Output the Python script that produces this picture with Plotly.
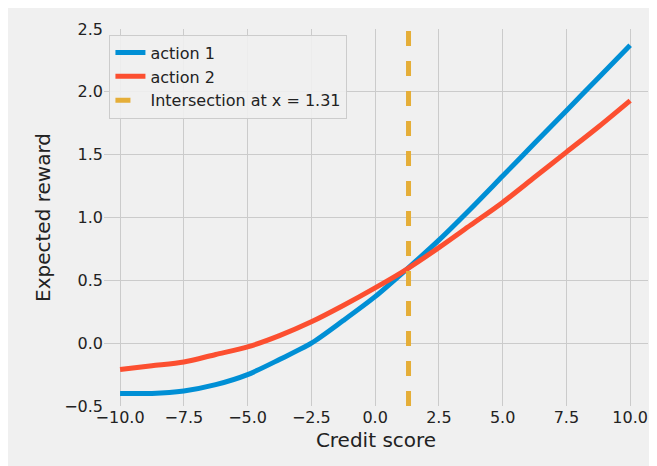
import plotly.graph_objects as go

x_vals = [-10, -8.75, -7.5, -6.25, -5, -3.75, -2.5, -1.25, 0, 1.25, 2.5, 3.75, 5, 6.25, 7.5, 8.75, 10]
action1 = [-0.40, -0.40, -0.38, -0.33, -0.25, -0.13, 0.0, 0.18, 0.37, 0.59, 0.82, 1.07, 1.33, 1.59, 1.85, 2.11, 2.37]
action2 = [-0.21, -0.18, -0.15, -0.09, -0.03, 0.06, 0.17, 0.30, 0.44, 0.59, 0.76, 0.94, 1.12, 1.32, 1.52, 1.72, 1.93]
intersection_x = 1.31
x_ticks = [-10, -7.5, -5, -2.5, 0, 2.5, 5, 7.5, 10]
x_tick_labels = ["−10.0", "−7.5", "−5.0", "−2.5", "0.0", "2.5", "5.0", "7.5", "10.0"]
y_ticks = [-0.5, 0, 0.5, 1, 1.5, 2, 2.5]
y_tick_labels = ["−0.5", "0.0", "0.5", "1.0", "1.5", "2.0", "2.5"]

fig = go.Figure()
fig.add_trace(go.Scatter(x=x_vals, y=action1, mode="lines", name="action 1",
                         line=dict(color="#008fd5", width=5, shape="spline", smoothing=0.8)))
fig.add_trace(go.Scatter(x=x_vals, y=action2, mode="lines", name="action 2",
                         line=dict(color="#fc4f30", width=5, shape="spline", smoothing=0.8)))
fig.add_trace(go.Scatter(x=[intersection_x, intersection_x], y=[-0.5, 2.5], mode="lines",
                         name=f"Intersection at x = {intersection_x}",
                         line=dict(color="#e5ae38", width=5, dash="dash")))

axis_common = dict(showgrid=True, gridcolor="#cbcbcb", gridwidth=1.3, zeroline=False,
                   showline=False, ticks="", tickfont=dict(size=16, color="#222"))
fig.update_layout(
    width=657, height=466,
    paper_bgcolor="#f0f0f0", plot_bgcolor="#f0f0f0",
    font=dict(family="DejaVu Sans", color="#222"),
    margin=dict(l=96, r=17, t=18, b=68),
    xaxis=dict(axis_common, range=[-10.63, 10.7], tickvals=x_ticks, ticktext=x_tick_labels,
               title=dict(text="Credit score", font=dict(size=20), standoff=6)),
    yaxis=dict(axis_common, range=[-0.5, 2.5], tickvals=y_ticks, ticktext=y_tick_labels,
               title=dict(text="Expected reward", font=dict(size=20), standoff=8)),
    legend=dict(x=0.01, y=0.985, xanchor="left", yanchor="top",
                bgcolor="rgba(240,240,240,0.9)", bordercolor="#cccccc", borderwidth=1,
                font=dict(size=16)),
)
fig.write_html("out.html")
